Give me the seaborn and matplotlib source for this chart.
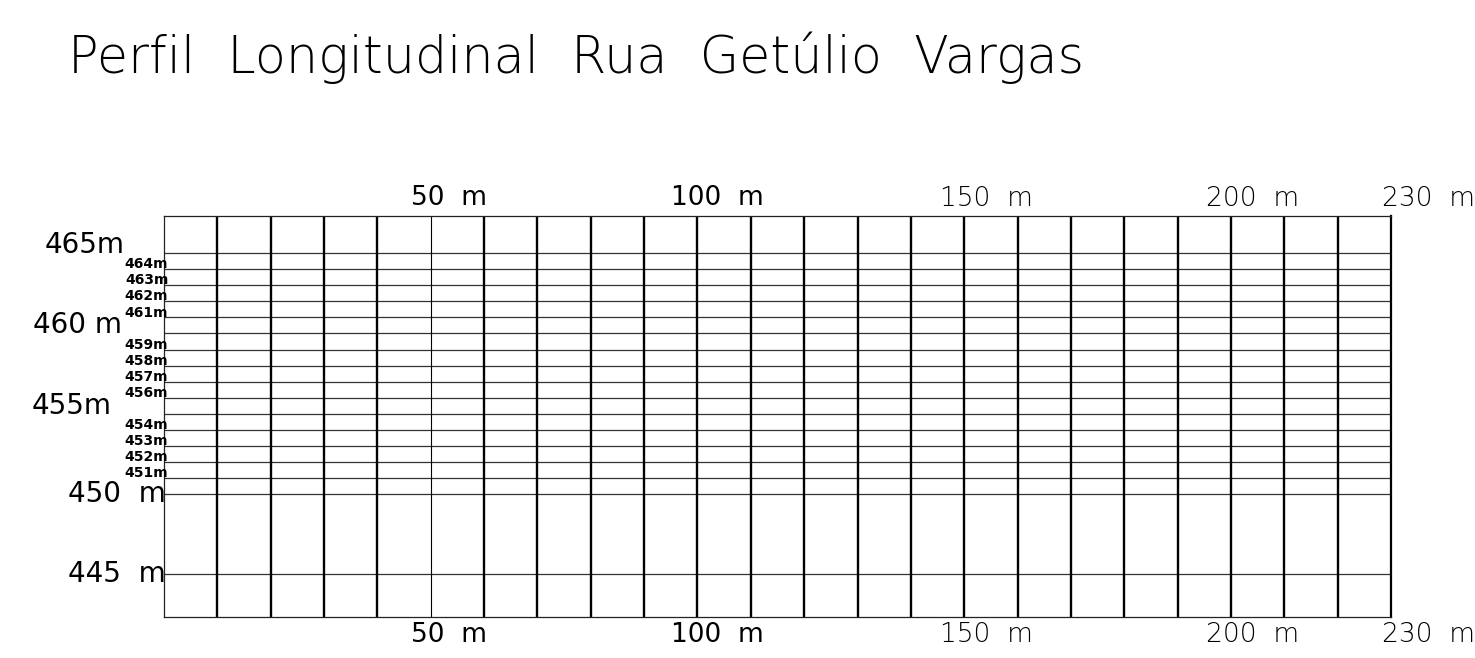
import matplotlib
matplotlib.use("Agg")
import matplotlib.pyplot as plt
import seaborn as sns

# data
title = "Perfil  Longitudinal  Rua  Getúlio  Vargas"
x_max = 230
grid_x = [10, 20, 30, 40, 50, 60, 70, 80, 90, 100, 110, 120, 130, 140, 150,
          160, 170, 180, 190, 200, 210, 220]
grid_y = [445, 450, 451, 452, 453, 454, 455, 456, 457, 458, 459, 460,
          461, 462, 463, 464, 465]
major_y = [465, 460, 455, 450, 445]
major_y_labels = ["465m", "460 m", "455m", "450  m", "445  m"]
minor_y = [464, 463, 462, 461, 459, 458, 457, 456, 454, 453, 452, 451]
dist_ticks = [50, 100, 150, 200, 230]
dist_labels = ["50  m", "100  m", "150  m", "200  m", "230  m"]
y_lim = (442.33, 467.35)

sns.set_theme(style="white")
plt.rcParams["font.family"] = ["DejaVu Sans"]
plt.rcParams["text.color"] = "black"

fig = plt.figure(figsize=(14.75, 6.58), dpi=100)
ax = fig.add_axes([164 / 1475, 1 - 616.7 / 658, (1391 - 164) / 1475, (616.7 - 215.7) / 658])
ax.set_xlim(0, x_max)
ax.set_ylim(*y_lim)
ax.set_xticks([])
ax.set_yticks([])
for side in ["left", "top", "bottom"]:
    ax.spines[side].set_linewidth(0.9)
    ax.spines[side].set_color("#222222")
ax.spines["right"].set_linewidth(1.6)
ax.spines["right"].set_color("black")

# vertical station lines
for x in grid_x:
    lw = 0.8 if x == 50 else 1.7
    ax.axvline(x, color="black", lw=lw, zorder=2)

# horizontal elevation lines
for y in grid_y:
    ax.axhline(y, color="#333333", lw=0.9, zorder=1)

# elevation labels
big_offsets = {465: -7.3, 460: -7.8, 455: -9.8}
for y, lab in zip(major_y, major_y_labels):
    if y in big_offsets:
        ax.text(big_offsets[y], y, lab, ha="right", va="baseline",
                fontsize=20, clip_on=False)
    else:
        ax.text(0.4, y, lab, ha="right", va="center", fontsize=20, clip_on=False)
for y in minor_y:
    ax.text(0.8, y + 0.06, f"{y}m", ha="right", va="baseline", fontsize=10,
            fontweight="bold", clip_on=False)

# distance labels on top and bottom
label_x = [53.5, 103.7, 154.2, 204.1, 237.0]
for x, cx, lab in zip(dist_ticks, label_x, dist_labels):
    w = "normal" if x <= 100 else "light"
    ax.text(cx, 468.45, lab, ha="center", va="center", fontsize=19,
            fontweight=w, clip_on=False)
    ax.text(cx, 441.2, lab, ha="center", va="center", fontsize=19,
            fontweight=w, clip_on=False)

fig.text(68 / 1475, 1 - 73 / 658, title, ha="left", va="baseline",
         fontsize=36.5, fontweight="light", color="black")

fig.savefig("out.png", dpi=100, facecolor="white")
